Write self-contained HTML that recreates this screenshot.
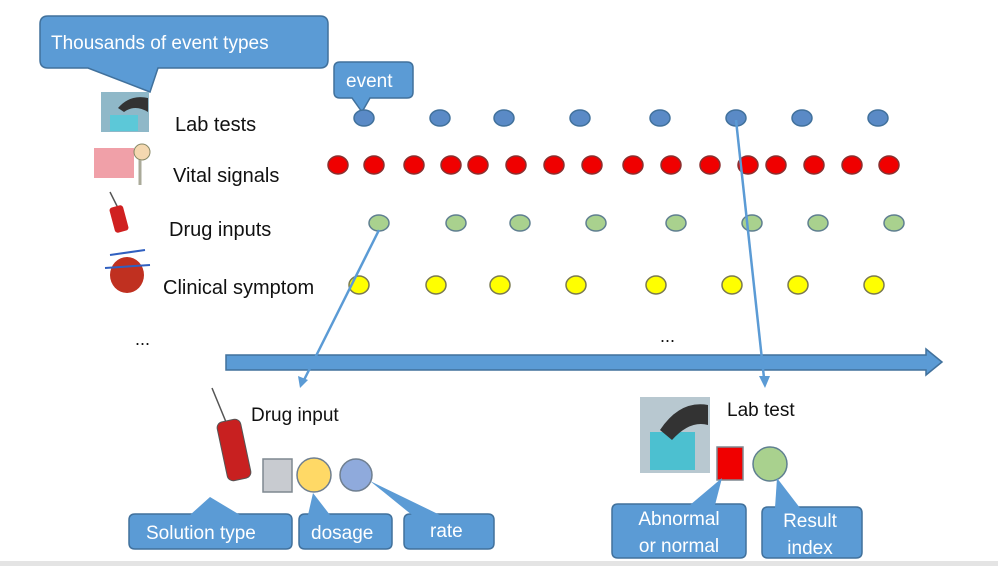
<!DOCTYPE html>
<html><head><meta charset="utf-8"><style>
html,body{margin:0;padding:0;background:#fff;}
svg text{font-family:"Liberation Sans",sans-serif;}
</style></head><body>
<svg width="998" height="566" viewBox="0 0 998 566" xmlns="http://www.w3.org/2000/svg">
<rect width="998" height="566" fill="#fff"/>
<!-- callouts top -->
<path d="M48,16 H320 Q328,16 328,24 V60 Q328,68 320,68 H158 L150,92 L88,68 H48 Q40,68 40,60 V24 Q40,16 48,16 Z" fill="#5b9bd5" stroke="#41719c" stroke-width="1.5"/>
<text x="51" y="49" font-size="19" fill="#fff">Thousands of event types</text>
<path d="M340,62 H407 Q413,62 413,68 V92 Q413,98 407,98 H370 L362,112 L352,98 H340 Q334,98 334,92 V68 Q334,62 340,62 Z" fill="#5b9bd5" stroke="#41719c" stroke-width="1.5"/>
<text x="346" y="87" font-size="19" fill="#fff">event</text>
<!-- icons -->
<rect x="101" y="92" width="48" height="40" fill="#8fb8c8"/><rect x="110" y="115" width="28" height="16" fill="#5cc8d8"/><path d="M118,108 Q130,94 148,98 L148,112 Q135,104 124,112 Z" fill="#333"/>
<rect x="94" y="148" width="40" height="30" fill="#f0a0a8"/><circle cx="142" cy="152" r="8" fill="#f4d8b0" stroke="#886" /><line x1="140" y1="160" x2="140" y2="185" stroke="#aa9" stroke-width="3"/>
<line x1="110" y1="192" x2="118" y2="208" stroke="#555" stroke-width="1.5"/><rect x="112" y="206" width="14" height="26" rx="3" fill="#d02020" transform="rotate(-15 119 219)"/>
<ellipse cx="127" cy="275" rx="17" ry="18" fill="#c03020"/><path d="M110,255 L145,250 M105,268 L150,265" stroke="#3060c0" stroke-width="2"/>
<g font-size="20" fill="#111">
<text x="175" y="131">Lab tests</text>
<text x="173" y="182">Vital signals</text>
<text x="169" y="236">Drug inputs</text>
<text x="163" y="294">Clinical symptom</text>
<text x="135" y="345" font-size="18">...</text>
<text x="660" y="342" font-size="18">...</text>
</g>
<!-- dots -->
<g fill="#5a8ac6" stroke="#41719c" stroke-width="1.5">
<ellipse cx="364" cy="118" rx="10" ry="8"/><ellipse cx="440" cy="118" rx="10" ry="8"/><ellipse cx="504" cy="118" rx="10" ry="8"/><ellipse cx="580" cy="118" rx="10" ry="8"/><ellipse cx="660" cy="118" rx="10" ry="8"/><ellipse cx="736" cy="118" rx="10" ry="8"/><ellipse cx="802" cy="118" rx="10" ry="8"/><ellipse cx="878" cy="118" rx="10" ry="8"/>
</g>
<g fill="#f00000" stroke="#8a3030" stroke-width="1.5">
<ellipse cx="338" cy="165" rx="10" ry="9"/><ellipse cx="374" cy="165" rx="10" ry="9"/><ellipse cx="414" cy="165" rx="10" ry="9"/><ellipse cx="451" cy="165" rx="10" ry="9"/><ellipse cx="478" cy="165" rx="10" ry="9"/><ellipse cx="516" cy="165" rx="10" ry="9"/><ellipse cx="554" cy="165" rx="10" ry="9"/><ellipse cx="592" cy="165" rx="10" ry="9"/><ellipse cx="633" cy="165" rx="10" ry="9"/><ellipse cx="671" cy="165" rx="10" ry="9"/><ellipse cx="710" cy="165" rx="10" ry="9"/><ellipse cx="748" cy="165" rx="10" ry="9"/><ellipse cx="776" cy="165" rx="10" ry="9"/><ellipse cx="814" cy="165" rx="10" ry="9"/><ellipse cx="852" cy="165" rx="10" ry="9"/><ellipse cx="889" cy="165" rx="10" ry="9"/>
</g>
<g fill="#a9d18e" stroke="#5f7f90" stroke-width="1.5">
<ellipse cx="379" cy="223" rx="10" ry="8"/><ellipse cx="456" cy="223" rx="10" ry="8"/><ellipse cx="520" cy="223" rx="10" ry="8"/><ellipse cx="596" cy="223" rx="10" ry="8"/><ellipse cx="676" cy="223" rx="10" ry="8"/><ellipse cx="752" cy="223" rx="10" ry="8"/><ellipse cx="818" cy="223" rx="10" ry="8"/><ellipse cx="894" cy="223" rx="10" ry="8"/>
</g>
<g fill="#ffff00" stroke="#7a7a50" stroke-width="1.5">
<ellipse cx="359" cy="285" rx="10" ry="9"/><ellipse cx="436" cy="285" rx="10" ry="9"/><ellipse cx="500" cy="285" rx="10" ry="9"/><ellipse cx="576" cy="285" rx="10" ry="9"/><ellipse cx="656" cy="285" rx="10" ry="9"/><ellipse cx="732" cy="285" rx="10" ry="9"/><ellipse cx="798" cy="285" rx="10" ry="9"/><ellipse cx="874" cy="285" rx="10" ry="9"/>
</g>
<!-- main arrow -->
<path d="M226,355 H926 V349 L942,362 L926,375 V370 H226 Z" fill="#5b9bd5" stroke="#41719c" stroke-width="1.5"/>
<!-- connectors -->
<line x1="379" y1="230" x2="304" y2="380" stroke="#5b9bd5" stroke-width="2.5"/>
<path d="M300,388 L298,376 L308,380 Z" fill="#5b9bd5"/>
<line x1="736" y1="120" x2="764" y2="378" stroke="#5b9bd5" stroke-width="2.5"/>
<path d="M765,388 L759,376 L770,376 Z" fill="#5b9bd5"/>
<!-- drug input detail -->
<line x1="212" y1="388" x2="226" y2="422" stroke="#555" stroke-width="1.5"/>
<rect x="222" y="420" width="24" height="60" rx="6" fill="#c82020" stroke="#555" transform="rotate(-12 234 450)"/>
<text x="251" y="421" font-size="19" fill="#111">Drug input</text>
<rect x="263" y="459" width="29" height="33" fill="#c8cbd0" stroke="#7f8890" stroke-width="1.5"/>
<circle cx="314" cy="475" r="17" fill="#ffd966" stroke="#6f7f90" stroke-width="1.5"/>
<circle cx="356" cy="475" r="16" fill="#8faadc" stroke="#6f7f90" stroke-width="1.5"/>
<g fill="#5b9bd5" stroke="#41719c" stroke-width="1.5">
<path d="M135,514 H210 L210,514 L210,514 L212,514 L212,514 L210,514 H286 Q292,514 292,520 V543 Q292,549 286,549 H135 Q129,549 129,543 V520 Q129,514 135,514 Z"/>
<path d="M200,515 L210,515 L210,515 L210,515 L212,515 L212,515" stroke="none"/>
<path d="M190,515 L210,497 L240,515 Z" stroke="none"/>
<path d="M305,514 H386 Q392,514 392,520 V543 Q392,549 386,549 H305 Q299,549 299,543 V520 Q299,514 305,514 Z"/>
<path d="M308,515 L313,493 L330,515 Z" stroke="none"/>
<path d="M410,514 H488 Q494,514 494,520 V543 Q494,549 488,549 H410 Q404,549 404,543 V520 Q404,514 410,514 Z"/>
<path d="M412,515 L370,481 L440,515 Z" stroke="none"/>
</g>
<g font-size="19" fill="#fff">
<text x="146" y="539">Solution type</text>
<text x="311" y="539">dosage</text>
<text x="430" y="537">rate</text>
</g>
<!-- lab test detail -->
<rect x="640" y="397" width="70" height="76" fill="#b8c8d0"/><rect x="650" y="432" width="45" height="38" fill="#4cc0d0"/><path d="M660,430 Q680,400 708,405 L708,425 Q690,420 672,440 Z" fill="#333"/>
<text x="727" y="416" font-size="19" fill="#111">Lab test</text>
<rect x="717" y="447" width="26" height="33" fill="#f00000" stroke="#7f8890" stroke-width="1.5"/>
<circle cx="770" cy="464" r="17" fill="#a9d18e" stroke="#5f7f90" stroke-width="1.5"/>
<g fill="#5b9bd5" stroke="#41719c" stroke-width="1.5">
<path d="M618,504 H740 Q746,504 746,510 V552 Q746,558 740,558 H618 Q612,558 612,552 V510 Q612,504 618,504 Z"/>
<path d="M690,505 L722,478 L715,505 Z" stroke="none"/>
<path d="M768,507 H856 Q862,507 862,513 V552 Q862,558 856,558 H768 Q762,558 762,552 V513 Q762,507 768,507 Z"/>
<path d="M775,508 L777,478 L800,508 Z" stroke="none"/>
</g>
<g font-size="19" fill="#fff" text-anchor="middle">
<text x="679" y="525">Abnormal</text>
<text x="679" y="552">or  normal</text>
<text x="810" y="527">Result</text>
<text x="810" y="554">index</text>
</g>
<rect x="0" y="561" width="998" height="5" fill="#e4e4e4"/>
</svg>
</body></html>
